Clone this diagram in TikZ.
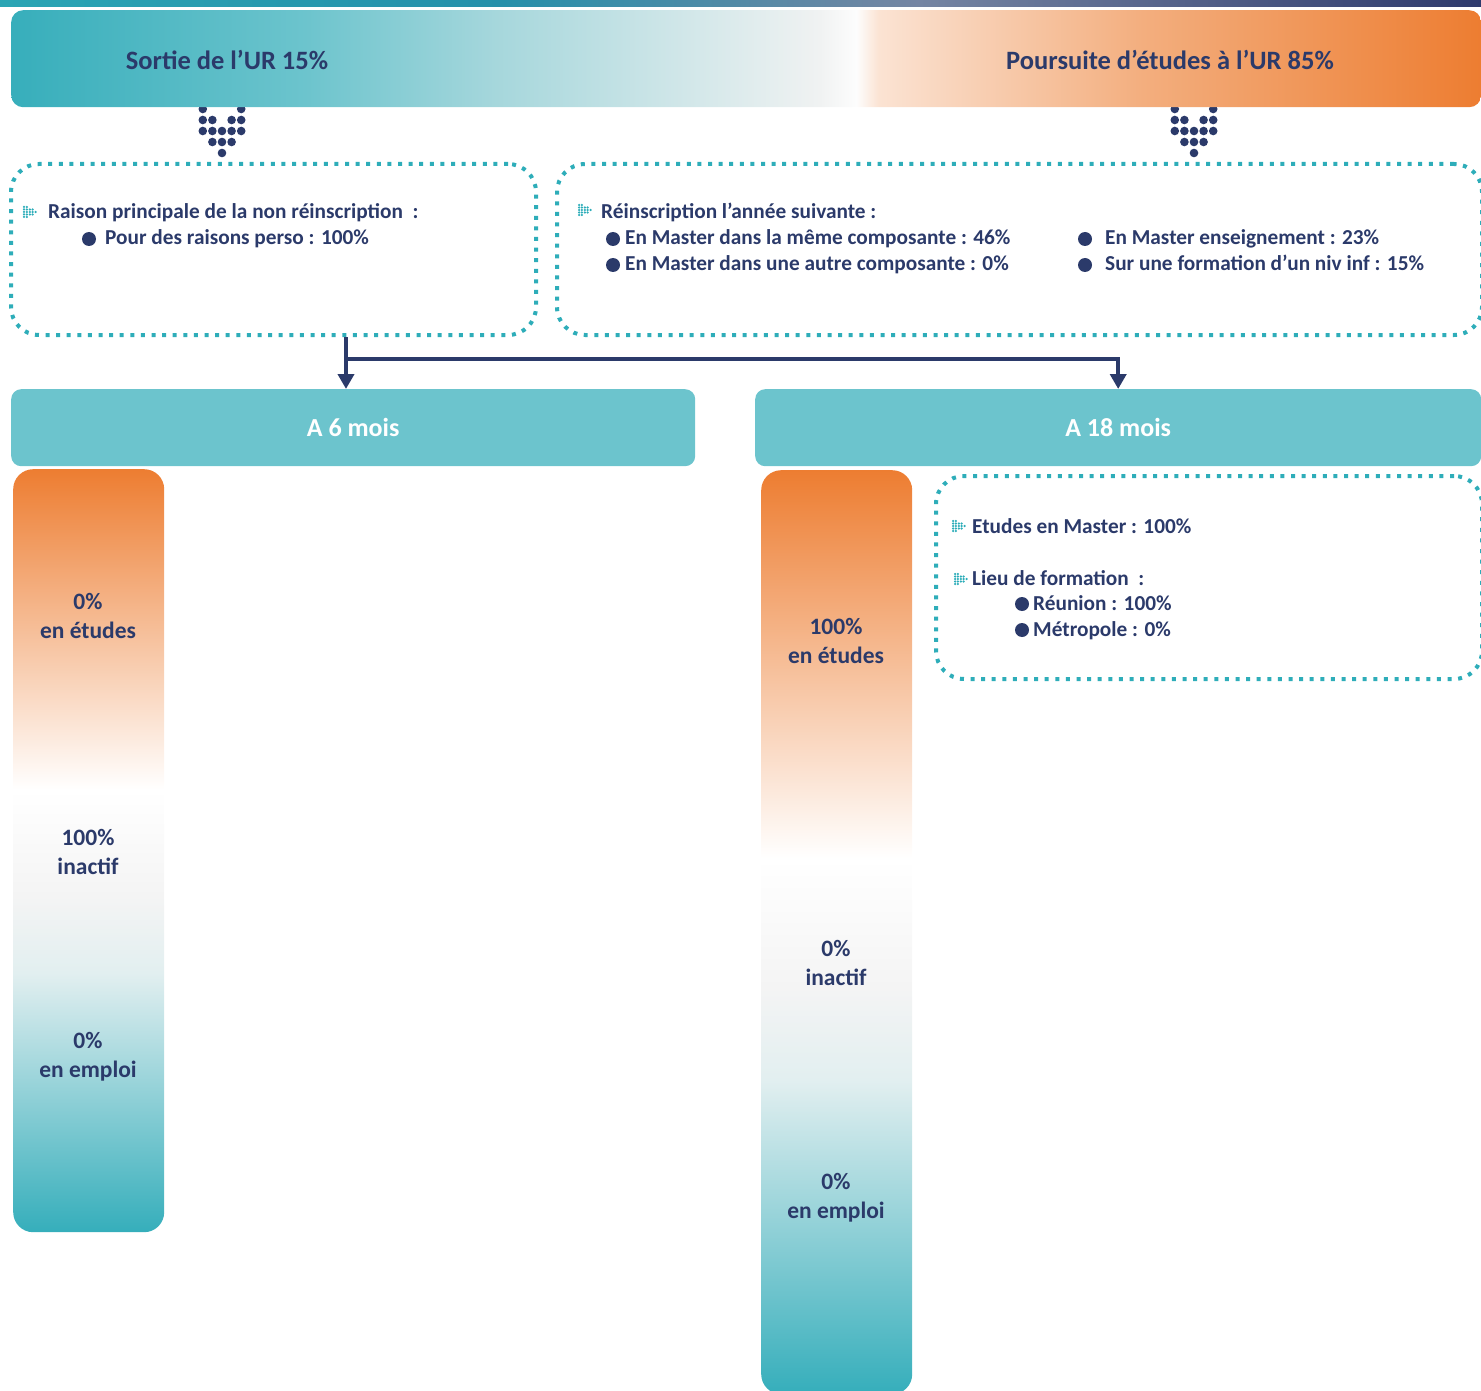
\documentclass[tikz,border=0pt]{standalone}
\usepackage{fontspec}
\setmainfont{Carlito}
\usetikzlibrary{arrows.meta,calc}
\definecolor{navy}{HTML}{2B3A6A}
\definecolor{dotteal}{HTML}{2EADB9}
\definecolor{mteal}{HTML}{6CC4CD}
\definecolor{bA}{HTML}{37AEBB}
\definecolor{bB}{HTML}{6CC4CD}
\definecolor{bC}{HTML}{A6D7DC}
\definecolor{bD}{HTML}{F0F2F2}
\definecolor{bE}{HTML}{FDFDFD}
\definecolor{bF}{HTML}{FBE3D3}
\definecolor{bG}{HTML}{F3AE7E}
\definecolor{bH}{HTML}{ED7D31}
\definecolor{sA}{HTML}{2AA5B4}
\definecolor{sB}{HTML}{2790AA}
\definecolor{sC}{HTML}{7585A3}
\definecolor{sD}{HTML}{2E3A6D}
\definecolor{cTop}{HTML}{ED7D31}
\definecolor{cW}{HTML}{FFFFFF}
\definecolor{cG}{HTML}{F4F4F4}
\definecolor{cL}{HTML}{E2EFF0}
\definecolor{cBot}{HTML}{35AEBB}
\pgfdeclarehorizontalshading{bannershade}{100bp}{color(0bp)=(bA); color(25bp)=(bA); color(35bp)=(bB); color(41.5bp)=(bC); color(52.5bp)=(bD); color(53.75bp)=(bE); color(54.5bp)=(bF); color(63.5bp)=(bG); color(75bp)=(bH); color(100bp)=(bH)}
\pgfdeclarehorizontalshading{stripshade}{100bp}{color(0bp)=(sA); color(25bp)=(sA); color(42bp)=(sB); color(56bp)=(sC); color(75bp)=(sD); color(100bp)=(sD)}
\pgfdeclareverticalshading{colshade}{100bp}{color(0bp)=(cBot); color(25bp)=(cBot); color(42bp)=(cL); color(47bp)=(cG); color(54bp)=(cW); color(75bp)=(cTop); color(100bp)=(cTop)}
\tikzset{
  dotbox/.style={draw=dotteal, line width=4pt, dash pattern=on 4pt off 6.6pt, rounded corners=28pt, anchor=north west, inner sep=0pt},
  txt/.style={font=\fontsize{21.3}{25}\selectfont\bfseries, text=navy, anchor=base west, inner sep=0pt},
  head/.style={font=\fontsize{26.5}{30}\selectfont\bfseries, text=navy, inner sep=0pt},
  colbar/.style={shade, shading=colshade, rounded corners=20pt, anchor=north west, inner sep=0pt, minimum width=151pt},
  coltxt/.style={font=\fontsize{23.5}{29}\selectfont\bfseries, text=navy, align=center, inner sep=0pt},
  monthbox/.style={fill=mteal, rounded corners=10pt, anchor=north west, inner sep=0pt, minimum height=77pt},
  monthtxt/.style={font=\fontsize{26}{30}\selectfont\bfseries, text=white, inner sep=0pt},
  conn/.style={draw=navy, line width=4pt, -{Triangle[width=16pt,length=15pt]}},
  dotv/.pic={
    \foreach \cx/\cy in {-2/0,2/0,-2/1,-1/1,1/1,2/1,-2/2,-1/2,0/2,1/2,2/2,-1/3,0/3,1/3,0/4}
      \fill[navy] (\cx*9.6,\cy*11) circle (4.3pt);
  },
  chev/.pic={
    \foreach \cx/\cy in {0/-2,0/-1,0/0,0/1,0/2,1/-2,1/-1,1/0,1/1,1/2,2/-1,2/0,2/1,3/-1,3/0,3/1,4/0}
      \fill[dotteal] (\cx*2.9,\cy*2.5) circle (1.25pt);
  }
}
\begin{document}
\begin{tikzpicture}[x=1pt,y=-1pt]
\useasboundingbox (0,0) rectangle (1481,1391);
% top strip
\node[shade, shading=stripshade, minimum width=1481pt, minimum height=6pt, anchor=north west, inner sep=0pt] (strip) at (0,0) {};
% dot arrows (behind banner)
\pic at (222,109) {dotv};
\pic at (1194,109) {dotv};
% banner
\node[shade, shading=bannershade, rounded corners=12pt, minimum width=1470pt, minimum height=97pt, anchor=north west, inner sep=0pt] (banner) at (11,10) {};
\node[head] (hleft) at (227,60) {Sortie de l’UR 15\%};
\node[head] (hright) at (1170,60) {Poursuite d’études à l’UR 85\%};
% dotted boxes
\node[dotbox, minimum width=525pt, minimum height=171pt] (box1) at (9,162) {};
\node[dotbox, minimum width=925pt, minimum height=171pt] (box2) at (555,162) {};
\node[dotbox, minimum width=546pt, minimum height=203pt] (box3) at (934,474) {};
% box1 text
\pic at (24,212) {chev};
\node[txt] (r1) at (48,219) {Raison principale de la non réinscription~ :};
\fill[navy] (89,239) circle (7pt);
\node[txt] (r2) at (105,245) {Pour des raisons perso : 100\%};
% box2 text
\pic at (579,210) {chev};
\node[txt] (s1) at (601,219) {Réinscription l’année suivante :};
\fill[navy] (613,239) circle (7pt);
\node[txt] (s2) at (625,245) {En Master dans la même composante : 46\%};
\fill[navy] (613,265) circle (7pt);
\node[txt] (s3) at (625,271) {En Master dans une autre composante : 0\%};
\fill[navy] (1085,239) circle (7pt);
\node[txt] (s4) at (1105,245) {En Master enseignement : 23\%};
\fill[navy] (1085,265) circle (7pt);
\node[txt] (s5) at (1105,271) {Sur une formation d’un niv inf : 15\%};
% box3 text
\pic at (953,526) {chev};
\node[txt] (e1) at (972,533) {Etudes en Master : 100\%};
\pic at (955,579) {chev};
\node[txt] (e2) at (972,585) {Lieu de formation~ :};
\fill[navy] (1022,604) circle (7pt);
\node[txt] (e3) at (1033,610) {Réunion : 100\%};
\fill[navy] (1022,630) circle (7pt);
\node[txt] (e4) at (1033,636) {Métropole : 0\%};
% month boxes
\node[monthbox, minimum width=684pt] (m6) at (11,389) {};
\node[monthtxt] (m6t) at (m6.center) {A 6 mois};
\node[monthbox, minimum width=726pt] (m18) at (755,389) {};
\node[monthtxt] (m18t) at (m18.center) {A 18 mois};
% connectors
\coordinate (split) at (346,359);
\draw[conn] (box1.south -| split) -- (m6.north -| split);
\draw[conn] (split) -| (m18.north);
% columns
\node[colbar, minimum height=763pt] (col6) at (13,469) {};
\node[colbar, minimum height=924pt] (col18) at (761,470) {};
\node[coltxt] (a1) at (88,616) {0\%\\en études};
\node[coltxt] (a2) at (88,852) {100\%\\inactif};
\node[coltxt] (a3) at (88,1057) {0\%\\en emploi};
\node[coltxt] (b1) at (836,641) {100\%\\en études};
\node[coltxt] (b2) at (836,963) {0\%\\inactif};
\node[coltxt] (b3) at (836,1198) {0\%\\en emploi};
\end{tikzpicture}
\end{document}
